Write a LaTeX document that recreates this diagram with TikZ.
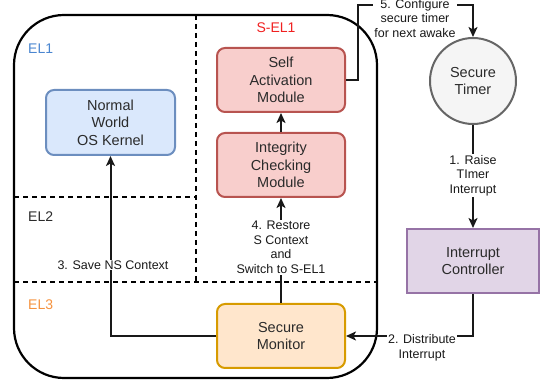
\documentclass[tikz,border=0pt]{standalone}
\usepackage{fontspec}
\setmainfont{Liberation Sans}
\usetikzlibrary{arrows.meta}
\definecolor{nwfill}{HTML}{DAE8FC}\definecolor{nwline}{HTML}{6C8EBF}
\definecolor{sfill}{HTML}{F8CECC}\definecolor{sline}{HTML}{B85450}
\definecolor{mfill}{HTML}{FFE6CC}\definecolor{mline}{HTML}{D79B00}
\definecolor{tfill}{HTML}{F5F5F5}\definecolor{tline}{HTML}{666666}
\definecolor{cfill}{HTML}{E1D5E7}\definecolor{cline}{HTML}{9673A6}
\definecolor{txt}{HTML}{2B2B2B}
\definecolor{elblue}{HTML}{4A86D0}
\definecolor{elred}{HTML}{F02020}
\definecolor{elorange}{HTML}{F5923E}
\begin{document}
\begin{tikzpicture}[x=1pt,y=-1pt,
  box/.style={draw, line width=2pt, rounded corners=8pt, align=center,
    text=txt, font=\fontsize{14.5}{17.5}\selectfont, inner sep=0pt},
  arr/.style={line width=2pt, draw=black!90, -{Stealth[length=10pt,width=9pt,inset=2.5pt]}},
  lbl/.style={fill=white, align=center, inner sep=1pt, text=black!90,
    font=\fontsize{12.5}{14.5}\selectfont},
  lvl/.style={font=\fontsize{14}{16}\selectfont, inner sep=0pt},
  sep/.style={line width=1.8pt, dash pattern=on 5pt off 4pt}]
\useasboundingbox (0,0) rectangle (542,385);

% privilege level frame and separators
\draw[line width=2.2pt, rounded corners=50pt] (14,15) rectangle (377,378);
\draw[sep] (196,15) -- (196,282);
\draw[sep] (14,197) -- (196,197);
\draw[sep] (14,282) -- (377,282);

\node[lvl, text=elblue, anchor=west] (el1) at (28,49) {EL1};
\node[lvl, text=txt, anchor=west] (el2) at (28,217) {EL2};
\node[lvl, text=elorange, anchor=west] (el3) at (28,305) {EL3};
\node[lvl, text=elred] (sel1) at (276,28) {S-EL1};

% components
\node[box, fill=nwfill, draw=nwline, minimum width=129pt, minimum height=65pt]
  (nw) at (110.5,122.5) {Normal\\World\\OS Kernel};
\node[box, fill=sfill, draw=sline, minimum width=128pt, minimum height=64pt]
  (self) at (281,80) {Self\\Activation\\Module};
\node[box, fill=sfill, draw=sline, minimum width=128pt, minimum height=64pt]
  (integ) at (281,165) {Integrity\\Checking\\Module};
\node[box, fill=mfill, draw=mline, minimum width=128pt, minimum height=64pt]
  (mon) at (281,336) {Secure\\Monitor};
\node[box, circle, rounded corners=0pt, fill=tfill, draw=tline, minimum size=86pt]
  (timer) at (473,81) {Secure\\Timer};
\node[box, rounded corners=0pt, fill=cfill, draw=cline, minimum width=132pt, minimum height=64pt]
  (ctrl) at (473,261) {Interrupt\\Controller};

% control flow
\coordinate (cfg) at (358,5);
\draw[arr] (self.east) -| (cfg) -| (timer.north);
\draw[arr] (timer.south) -- (ctrl.north);
\draw[arr] (ctrl.south) |- (mon.east);
\draw[arr] (mon.west) -| (nw.south);
\draw[arr] (mon.north) -- (integ.south);
\draw[arr] (integ.north) -- (self.south);

% step labels
\node[lbl] (l5) at (415,18.5) {5. Configure\\secure timer\\for next awake};
\node[lbl] (l1) at (473,175.5) {1. Raise\\TImer\\Interrupt};
\node[lbl] (l2) at (422,348) {2. Distribute\\Interrupt};
\node[lbl] (l3) at (113,265) {3. Save NS Context};
\node[lbl] (l4) at (281,247.5) {4. Restore\\S Context\\and\\Switch to S-EL1};
\end{tikzpicture}
\end{document}
